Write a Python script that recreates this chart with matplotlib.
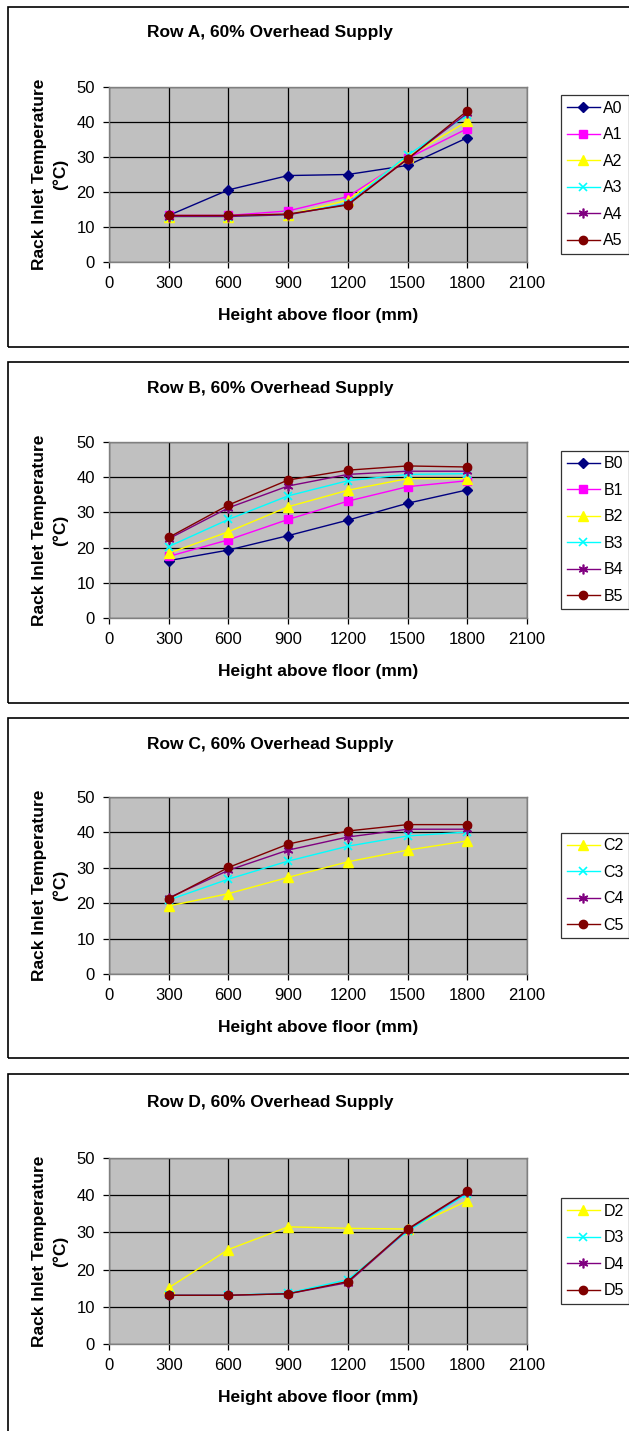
import matplotlib
matplotlib.use('Agg')
import matplotlib.pyplot as plt
from matplotlib.patches import Rectangle

plt.rcParams['font.family'] = ['Liberation Sans', 'DejaVu Sans']

heights = [300, 600, 900, 1200, 1500, 1800]

# Row A
a_names = ['A0', 'A1', 'A2', 'A3', 'A4', 'A5']
a_vals = [
    [13.3, 20.6, 24.7, 25.0, 27.6, 35.5],
    [13.3, 13.3, 14.6, 18.7, 29.6, 38.1],
    [13.0, 13.0, 13.5, 17.7, 30.0, 40.2],
    [13.0, 13.0, 13.5, 16.8, 30.5, 42.0],
    [13.0, 13.0, 13.5, 16.5, 29.5, 42.5],
    [13.3, 13.3, 13.7, 16.3, 29.4, 43.2],
]

# Row B
b_names = ['B0', 'B1', 'B2', 'B3', 'B4', 'B5']
b_vals = [
    [16.3, 19.3, 23.4, 27.8, 32.6, 36.4],
    [17.5, 22.2, 28.0, 33.2, 37.3, 39.0],
    [18.4, 24.5, 31.6, 36.3, 39.6, 39.6],
    [20.3, 28.0, 34.7, 39.0, 40.8, 41.0],
    [22.5, 31.3, 37.5, 40.8, 41.7, 41.7],
    [22.9, 32.1, 39.2, 42.0, 43.2, 42.9],
]

# Row C
c_names = ['C2', 'C3', 'C4', 'C5']
c_vals = [
    [19.2, 22.7, 27.3, 31.7, 35.0, 37.6],
    [20.9, 26.8, 31.9, 36.1, 39.0, 40.1],
    [21.5, 29.3, 35.0, 38.7, 40.9, 40.9],
    [21.3, 30.1, 36.7, 40.4, 42.2, 42.2],
]

# Row D
d_names = ['D2', 'D3', 'D4', 'D5']
d_vals = [
    [15.1, 25.4, 31.5, 31.1, 30.9, 38.5],
    [13.1, 13.1, 13.7, 17.3, 30.3, 40.4],
    [13.1, 13.1, 13.5, 16.5, 30.7, 40.8],
    [13.1, 13.1, 13.5, 16.8, 30.9, 41.0],
]

titles = ['Row A, 60% Overhead Supply', 'Row B, 60% Overhead Supply',
          'Row C, 60% Overhead Supply', 'Row D, 60% Overhead Supply']

# excel style per series index (0..5)
styles = {
    '0': dict(color='#000080', marker='D', ms=5),
    '1': dict(color='#FF00FF', marker='s', ms=6),
    '2': dict(color='#FFFF00', marker='^', ms=7),
    '3': dict(color='#00FFFF', marker='x', ms=6, mew=1.2),
    '4': dict(color='#800080', marker=(6, 2, 0), ms=7, mew=1.2),
    '5': dict(color='#800000', marker='o', ms=6),
}

W, H = 629, 1431
fig = plt.figure(figsize=(W / 100, H / 100), dpi=100)

# pixel layout: box top, box bottom, plot top, plot bottom, title y
layout = [
    (7, 347, 87, 262, 33),
    (362, 703, 442, 618, 389),
    (718, 1058, 797, 974, 745),
    (1074, 1480, 1158, 1344, 1102),
]

panels = [(a_names, a_vals), (b_names, b_vals), (c_names, c_vals), (d_names, d_vals)]

for (names, vals), title, (bt, bb, pt, pb, ty) in zip(panels, titles, layout):
    # outer chart border
    fig.patches.append(Rectangle((8 / W, 1 - bb / H), 700 / W, (bb - bt) / H,
                                 transform=fig.transFigure, fill=False,
                                 edgecolor='black', linewidth=1.2))

    ax = fig.add_axes([109 / W, 1 - pb / H, 418 / W, (pb - pt) / H])
    ax.set_facecolor('#C0C0C0')
    for n, v in zip(names, vals):
        st = styles[n[1]]
        ax.plot(heights, v, color=st['color'], lw=1.0, marker=st['marker'],
                markersize=st['ms'], markeredgewidth=st.get('mew', 1),
                markerfacecolor=st['color'], markeredgecolor=st['color'],
                label=n, zorder=3)

    ax.set_xlim(0, 2100)
    ax.set_ylim(0, 50)
    ax.set_xticks(range(0, 2101, 300))
    ax.set_yticks(range(0, 51, 10))
    ax.grid(True, color='black', linewidth=0.9)
    ax.set_axisbelow(True)
    for s in ax.spines.values():
        s.set_color('#808080')
        s.set_linewidth(1)
    ax.tick_params(direction='out', length=4, width=0.9, color='black',
                   labelsize=12, pad=6)
    ax.set_xlabel('Height above floor (mm)', fontsize=12.5, fontweight='bold',
                  labelpad=12)

    fig.text(50 / W, 1 - (pt + pb) / 2 / H, 'Rack Inlet Temperature\n(°C)',
             rotation=90, ha='center', va='center', fontsize=12.5,
             fontweight='bold', linespacing=1.45)
    fig.text(270 / W, 1 - ty / H, title, ha='center', va='center',
             fontsize=12.5, fontweight='bold')

    leg = ax.legend(loc='center left',
                    bbox_to_anchor=(561 / W, 1 - (pt + pb) / 2 / H),
                    bbox_transform=fig.transFigure, fontsize=11.5,
                    frameon=True, fancybox=False, handlelength=2.1,
                    handletextpad=0.2, labelspacing=0.72, borderpad=0.35,
                    borderaxespad=0)
    leg.get_frame().set_edgecolor('black')
    leg.get_frame().set_linewidth(0.9)

fig.savefig('out.png', dpi=100)
